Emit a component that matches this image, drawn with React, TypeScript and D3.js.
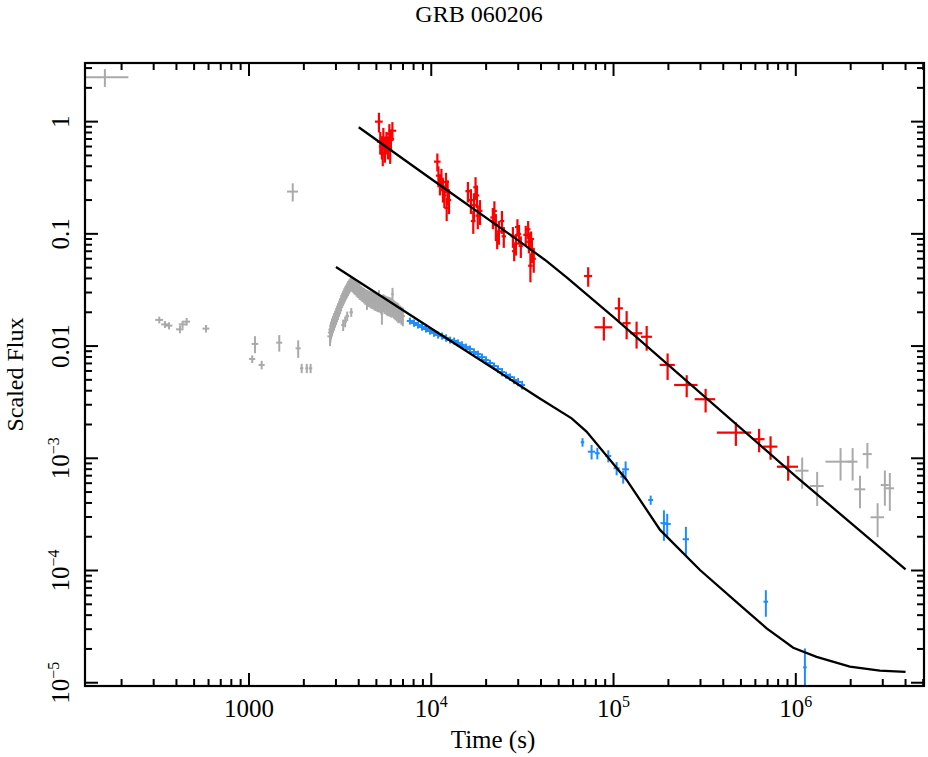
import React from "react";
import * as d3 from "d3";

// [time, timeErr, flux, fluxErr]
type Pt = [number, number, number, number];

const greyEarly: Pt[] = [
  [162, 56, 2.49, 0.45],
  [1738, 120, 0.238, 0.044],
  [322, 16, 0.0171, 0.0012],
  [346, 16, 0.0156, 0.0011],
  [364, 16, 0.0152, 0.0011],
  [418, 20, 0.0141, 0.0011],
  [432, 20, 0.0156, 0.0012],
  [455, 20, 0.0165, 0.0013],
  [581, 25, 0.0143, 0.0011],
  [1079, 45, 0.01045, 0.0018],
  [1042, 40, 0.00767, 0.0006],
  [1174, 45, 0.00679, 0.0006],
  [1466, 55, 0.01072, 0.0018],
  [1862, 60, 0.00955, 0.0017],
  [1946, 40, 0.00634, 0.0006],
  [2075, 40, 0.00634, 0.0006],
  [2178, 45, 0.00634, 0.0006],
];

const greyFlare: Pt[] = [
  [2782, 90, 0.0122, 0.0022], [2800, 90, 0.0132, 0.0024], [2818, 90, 0.0140, 0.0025],
  [2855, 90, 0.0150, 0.0027], [2891, 90, 0.0158, 0.0028], [2930, 90, 0.0167, 0.003],
  [2966, 90, 0.0176, 0.003], [3005, 90, 0.0186, 0.0032], [3043, 90, 0.0196, 0.0033],
  [3080, 90, 0.0206, 0.0035], [3122, 90, 0.0218, 0.0036], [3160, 90, 0.0230, 0.0038],
  [3203, 90, 0.0244, 0.004], [3245, 90, 0.0258, 0.004], [3286, 90, 0.0270, 0.0042],
  [3330, 90, 0.0283, 0.0044], [3371, 90, 0.0295, 0.0045], [3415, 90, 0.0306, 0.0046],
  [3458, 90, 0.0318, 0.0048], [3500, 90, 0.0330, 0.005], [3548, 90, 0.0342, 0.005],
  [3595, 90, 0.0352, 0.005], [3640, 90, 0.0360, 0.005], [3690, 90, 0.0354, 0.005],
  [3734, 90, 0.0348, 0.005], [3780, 90, 0.0340, 0.005], [3831, 90, 0.0334, 0.005],
  [3900, 100, 0.0325, 0.005], [3961, 100, 0.0318, 0.005], [4040, 100, 0.0308, 0.005],
  [4114, 100, 0.0300, 0.0045], [4190, 110, 0.0292, 0.0045], [4273, 110, 0.0285, 0.0045],
  [4350, 110, 0.0278, 0.0045], [4438, 110, 0.0272, 0.0045], [4520, 120, 0.0268, 0.0045],
  [4609, 120, 0.0265, 0.0045], [4700, 120, 0.0260, 0.0045], [4787, 130, 0.0258, 0.0045],
  [4880, 130, 0.0252, 0.0045], [4972, 130, 0.0250, 0.0045], [5070, 140, 0.0246, 0.0045],
  [5164, 140, 0.0245, 0.0045], [5260, 140, 0.0242, 0.0045], [5363, 150, 0.0240, 0.0045],
  [5460, 150, 0.0244, 0.0045], [5570, 150, 0.0238, 0.0045], [5680, 150, 0.0233, 0.0045],
  [5785, 160, 0.0230, 0.0045], [5890, 160, 0.0228, 0.0045], [6008, 160, 0.0225, 0.0045],
  [6120, 170, 0.0220, 0.004], [6240, 170, 0.0215, 0.004], [6360, 170, 0.0210, 0.004],
  [6481, 180, 0.0205, 0.004], [6600, 180, 0.0200, 0.004], [6731, 180, 0.0195, 0.0035],
  [6860, 190, 0.0190, 0.0035], [6991, 190, 0.0185, 0.0035],
  [3286, 80, 0.0154, 0.0018], [3371, 80, 0.0165, 0.0018], [3458, 80, 0.0185, 0.0018],
  [3640, 80, 0.0200, 0.0018], [5363, 100, 0.0195, 0.004], [6130, 100, 0.0290, 0.004],
  [5164, 100, 0.0275, 0.004], [4438, 100, 0.0240, 0.003],
];

const greyLate: Pt[] = [
  [1.084e6, 90000, 7.75e-4, 2.4e-4],
  [1.31e6, 112000, 5.66e-4, 1.9e-4],
  [1.76e6, 305000, 9.33e-4, 3e-4],
  [2.05e6, 130000, 9.33e-4, 3e-4],
  [2.25e6, 156000, 5.29e-4, 1.7e-4],
  [2.47e6, 140000, 1.09e-3, 2.8e-4],
  [2.81e6, 240000, 2.98e-4, 1e-4],
  [3.08e6, 156000, 5.78e-4, 2e-4],
  [3.28e6, 180000, 5.4e-4, 2e-4],
];

const bluePoints: Pt[] = [
  [7640, 300, 0.01674, 0.0012], [8040, 310, 0.01606, 0.0012], [8460, 330, 0.01542, 0.0011],
  [8900, 350, 0.01480, 0.0011], [9360, 360, 0.01420, 0.001], [9850, 380, 0.01363, 0.001],
  [10360, 400, 0.01309, 0.001], [10900, 420, 0.01256, 0.0009], [11470, 440, 0.01231, 0.0009],
  [12060, 460, 0.01181, 0.0009], [12690, 490, 0.01133, 0.0008], [13350, 510, 0.01110, 0.0008],
  [14000, 540, 0.01066, 0.0008], [14730, 560, 0.01023, 0.0008], [15500, 600, 0.00982, 0.0007],
  [16300, 630, 0.00942, 0.0007], [17150, 660, 0.00885, 0.0007], [18040, 690, 0.00850, 0.0006],
  [18980, 730, 0.00798, 0.0006], [19960, 770, 0.00751, 0.0006], [21000, 810, 0.00706, 0.0005],
  [22090, 850, 0.00664, 0.0005], [23240, 890, 0.00624, 0.0005], [24450, 940, 0.00587, 0.0005],
  [25720, 990, 0.00552, 0.0004], [27060, 1040, 0.00530, 0.0004], [28460, 1090, 0.00498, 0.0004],
  [29940, 1150, 0.00478, 0.0004], [31500, 1200, 0.00450, 0.0004],
  [67600, 1500, 1.39e-3, 1.2e-4],
  [75800, 3500, 1.145e-3, 1.7e-4],
  [81500, 2500, 1.109e-3, 1.3e-4],
  [93600, 3500, 1.049e-3, 1.3e-4],
  [104000, 4000, 8.15e-4, 1.1e-4],
  [116500, 5000, 7.98e-4, 1.4e-4],
  [113000, 4000, 6.85e-4, 9e-5],
  [159900, 5000, 4.25e-4, 4e-5],
  [189000, 8000, 2.64e-4, 8e-5],
  [197000, 9000, 2.60e-4, 6e-5],
  [249500, 10000, 1.90e-4, 5.5e-5],
  [685000, 20000, 5.27e-5, 1.4e-5],
  [1.122e6, 25000, 1.37e-5, 6.5e-6],
];

const redPoints: Pt[] = [
  // first orbit
  [5164, 250, 1.0, 0.2], [5250, 200, 0.66, 0.15], [5363, 200, 0.60, 0.14],
  [5460, 200, 0.72, 0.16], [5570, 200, 0.58, 0.15], [5680, 200, 0.66, 0.15],
  [5785, 200, 0.60, 0.14], [5890, 250, 0.78, 0.17], [6008, 250, 0.70, 0.15],
  [6120, 300, 0.83, 0.16], [5420, 200, 0.52, 0.12], [5950, 200, 0.55, 0.13],
  // second orbit
  [10800, 450, 0.44, 0.08], [10950, 350, 0.33, 0.07], [11160, 350, 0.28, 0.06],
  [11370, 350, 0.31, 0.07], [11590, 350, 0.25, 0.06], [11800, 350, 0.22, 0.05],
  [12050, 450, 0.29, 0.06], [12300, 350, 0.24, 0.06], [12510, 350, 0.20, 0.05],
  [12150, 350, 0.17, 0.04],
  // third orbit
  [15890, 500, 0.24, 0.05], [16500, 500, 0.20, 0.05], [17150, 500, 0.18, 0.05],
  [17810, 500, 0.22, 0.05], [18500, 600, 0.16, 0.04], [17000, 500, 0.13, 0.03],
  [17500, 500, 0.26, 0.06], [18000, 500, 0.145, 0.035],
  // fourth orbit
  [21780, 700, 0.14, 0.03], [22620, 700, 0.12, 0.03], [23510, 700, 0.105, 0.025],
  [24420, 700, 0.13, 0.03], [25000, 700, 0.095, 0.02], [23000, 700, 0.088, 0.015],
  [22200, 700, 0.16, 0.035],
  // fifth orbit
  [28050, 800, 0.095, 0.02], [29150, 800, 0.082, 0.018], [30290, 800, 0.10, 0.02],
  [31000, 800, 0.078, 0.017], [29700, 900, 0.115, 0.02], [28500, 800, 0.07, 0.013],
  // sixth orbit
  [33000, 1000, 0.098, 0.02], [34320, 1000, 0.085, 0.018], [35670, 1000, 0.072, 0.017],
  [36500, 1000, 0.060, 0.015], [35000, 1000, 0.052, 0.015], [34000, 1000, 0.11, 0.02],
  [35300, 1300, 0.09, 0.015],
  // late
  [72600, 3700, 0.0421, 0.0083],
  [88500, 9900, 0.0147, 0.0035],
  [107100, 5500, 0.0217, 0.0053],
  [118000, 6000, 0.0160, 0.0045],
  [133800, 10000, 0.0130, 0.0035],
  [152000, 10500, 0.0121, 0.003],
  [198000, 19000, 0.00679, 0.0018],
  [252000, 37000, 0.0045, 0.001],
  [320000, 41000, 0.00336, 0.0008],
  [469000, 100000, 0.00169, 0.0004],
  [629000, 45000, 0.00148, 0.00035],
  [727000, 65000, 0.00127, 0.0003],
  [908000, 120000, 0.000841, 0.00021],
];

// model curves [time, flux]
const redModel: [number, number][] = [
  [4000, 0.89], [1e4, 0.308], [3.01e4, 0.0871], [4.21e4, 0.0585],
  [5.51e4, 0.0411], [1e5, 0.0181], [1e6, 6.9e-4], [4e6, 1.025e-4],
];
const blueModel: [number, number][] = [
  [3000, 0.0507], [1e4, 0.01436], [3.9e4, 3.45e-3], [5.89e4, 2.27e-3],
  [7.11e4, 1.73e-3], [1.18e5, 6.41e-4], [1.8e5, 2.3e-4], [2.98e5, 1.01e-4],
  [4.94e5, 4.92e-5], [6.92e5, 3.05e-5], [9.68e5, 2.05e-5], [1.3e6, 1.7e-5],
  [1.98e6, 1.39e-5], [2.89e6, 1.28e-5], [4.0e6, 1.25e-5],
];

const xTickLabels: [number, string, string][] = [
  [1000, "1000", ""], [1e4, "10", "4"], [1e5, "10", "5"], [1e6, "10", "6"],
];
const yTickLabels: [number, string, string][] = [
  [1, "1", ""], [0.1, "0.1", ""], [0.01, "0.01", ""],
  [1e-3, "10", "\u22123"], [1e-4, "10", "\u22124"], [1e-5, "10", "\u22125"],
];

const W = 928;
const H = 757;
const L = 85, R = 924, T = 63, B = 686;
const FONT = "'Liberation Serif', 'Times New Roman', serif";

export default function App() {
  const x = d3.scaleLog().domain([126, 5.05e6]).range([L, R]);
  const y = d3.scaleLog().domain([9.35e-6, 3.33]).range([B, T]);

  // decade ticks plus the 2..9 minor ticks inside the domain
  const logTicks = (sc: d3.ScaleLogarithmic<number, number>) => {
    const [lo, hi] = sc.domain();
    const out: { v: number; major: boolean }[] = [];
    for (let e = Math.floor(Math.log10(lo)); e <= Math.ceil(Math.log10(hi)); e++) {
      for (let m = 1; m <= 9; m++) {
        const v = m * Math.pow(10, e);
        if (v >= lo && v <= hi) out.push({ v, major: m === 1 });
      }
    }
    return out;
  };

  const yMin = y.domain()[0] * 0.5;
  const bars = (pts: Pt[], color: string, sw: number, key: string) =>
    pts.map(([t, dt, f, df], i) => (
      <g key={key + i} stroke={color} strokeWidth={sw}>
        <line x1={x(Math.max(t - dt, 1))} x2={x(t + dt)} y1={y(f)} y2={y(f)} />
        <line x1={x(t)} x2={x(t)} y1={y(Math.max(f - df, yMin))} y2={y(f + df)} />
      </g>
    ));

  const line = d3.line<[number, number]>().x(d => x(d[0])).y(d => y(d[1]));

  const majLen = 13, minLen = 7;

  return (
    <svg width={W} height={H} style={{ position: "absolute", left: 0, top: 0, background: "#fff" }}
      fontFamily={FONT}>
      <defs>
        <clipPath id="plot">
          <rect x={L} y={T} width={R - L} height={B - T} />
        </clipPath>
      </defs>

      <text x={479} y={22} fontSize={24} textAnchor="middle">GRB 060206</text>

      <g clipPath="url(#plot)">
        {bars(greyEarly, "#aaaaaa", 2, "ge")}
        {bars(greyFlare, "#aaaaaa", 2, "gf")}
        {bars(greyLate, "#aaaaaa", 2, "gl")}
        {bars(bluePoints, "#1e8cff", 2, "b")}
        {bars(redPoints, "#ff0000", 2.2, "r")}
        <path d={line(redModel) || ""} fill="none" stroke="#000" strokeWidth={2.3} />
        <path d={line(blueModel) || ""} fill="none" stroke="#000" strokeWidth={2.3} />
      </g>

      {/* ticks on all four sides, pointing inwards */}
      <g stroke="#000" strokeWidth={2}>
        {logTicks(x).map(({ v, major }, i) => (
          <g key={"xt" + i}>
            <line x1={x(v)} x2={x(v)} y1={B} y2={B - (major ? majLen : minLen)} />
            <line x1={x(v)} x2={x(v)} y1={T} y2={T + (major ? majLen : minLen)} />
          </g>
        ))}
        {logTicks(y).map(({ v, major }, i) => (
          <g key={"yt" + i}>
            <line x1={L} x2={L + (major ? majLen : minLen)} y1={y(v)} y2={y(v)} />
            <line x1={R} x2={R - (major ? majLen : minLen)} y1={y(v)} y2={y(v)} />
          </g>
        ))}
      </g>
      <rect x={L} y={T} width={R - L} height={B - T} fill="none" stroke="#000" strokeWidth={2.2} />

      {xTickLabels.map(([v, base, sup]) => (
        <text key={"xl" + v} x={x(v)} y={717} fontSize={25} textAnchor="middle">
          {base}
          {sup && <tspan fontSize={16} dy={-10}>{sup}</tspan>}
        </text>
      ))}
      {yTickLabels.map(([v, base, sup]) => (
        <text key={"yl" + v} transform={`translate(69,${y(v)}) rotate(-90)`} fontSize={25}
          textAnchor="middle">
          {base}
          {sup && <tspan fontSize={16} dy={-10}>{sup}</tspan>}
        </text>
      ))}

      <text x={493} y={748} fontSize={25} textAnchor="middle">Time (s)</text>
      <text transform={`translate(23,${(T + B) / 2}) rotate(-90)`} fontSize={24} textAnchor="middle">
        Scaled Flux
      </text>
    </svg>
  );
}
